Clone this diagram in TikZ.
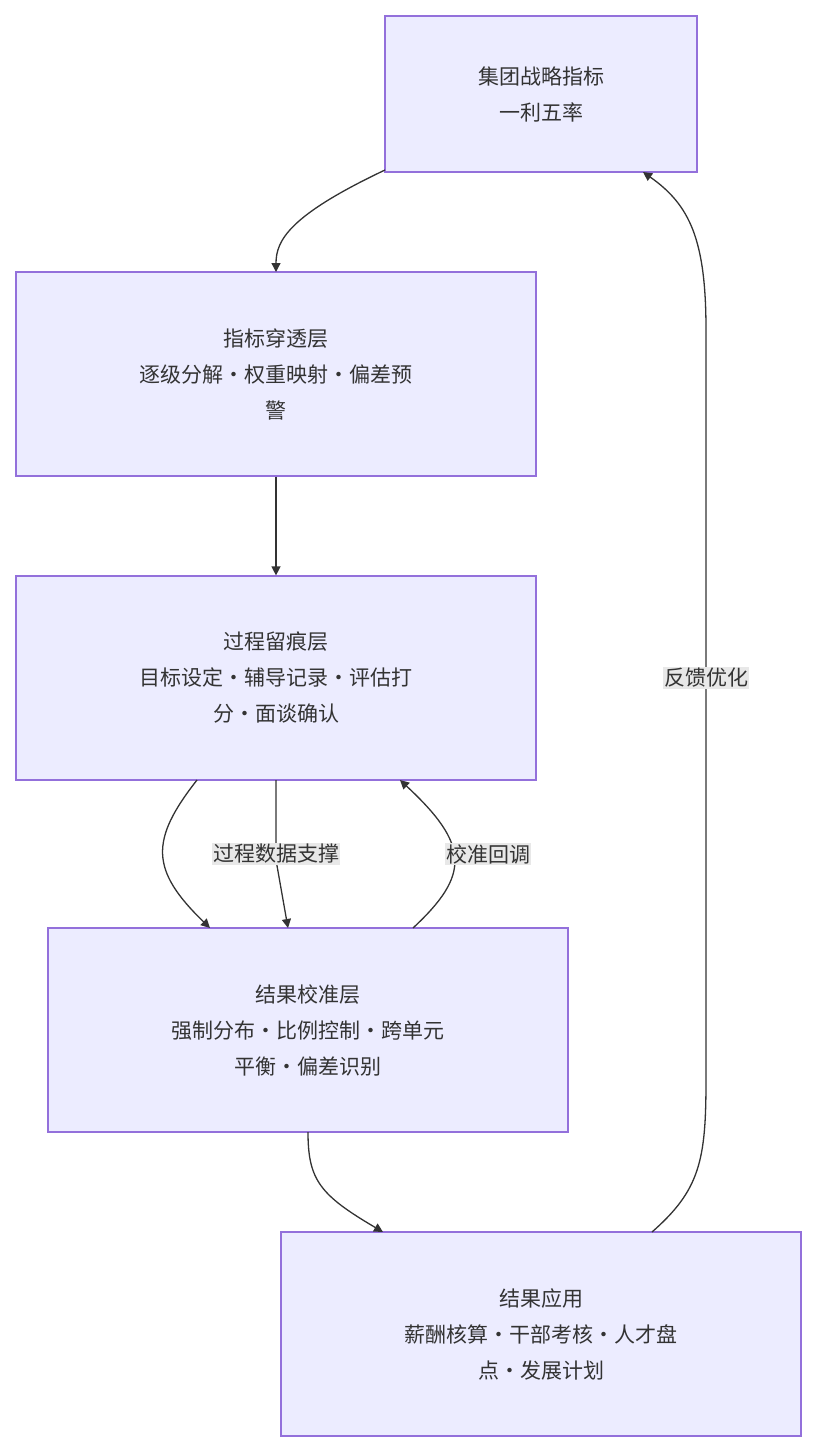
\documentclass[tikz,border=0pt]{standalone}
\usepackage{fontspec}
\setmainfont{Noto Sans CJK SC}
\usetikzlibrary{arrows.meta}
\definecolor{boxfill}{HTML}{ECECFF}
\definecolor{boxline}{HTML}{9370DB}
\definecolor{txt}{HTML}{333333}
\definecolor{lblbg}{HTML}{E8E8E8}
\begin{document}
\begin{tikzpicture}[x=1pt,y=-1pt,
  box/.style={draw=boxline,fill=boxfill,line width=1.2pt,minimum width=520pt,minimum height=204pt,align=center,text=txt,font=\fontsize{21}{36}\selectfont,inner sep=0pt},
  lbl/.style={fill=lblbg,text=txt,font=\fontsize{21}{28}\selectfont,inner sep=1pt},
  edge/.style={draw=txt,line width=1.3pt,-{Triangle[length=9pt,width=9pt]}}]
\useasboundingbox (0,0) rectangle (817,1452);
\node[box,minimum width=312pt,minimum height=156pt] (a) at (541,94) {集团战略指标\\一利五率};
\node[box] (b) at (276,374) {指标穿透层\\逐级分解·权重映射·偏差预\\警};
\node[box] (c) at (276,678) {过程留痕层\\目标设定·辅导记录·评估打\\分·面谈确认};
\node[box] (d) at (308,1030) {结果校准层\\强制分布·比例控制·跨单元\\平衡·偏差识别};
\node[box] (e) at (541,1334) {结果应用\\薪酬核算·干部考核·人才盘\\点·发展计划};
\coordinate (a1) at (385,170);
\coordinate (b1) at (276,272);
\draw[edge] (a1) .. controls (290,215) and (276,240) .. (b1);
\draw[edge] (b.south) -- (c.north);
\coordinate (c1) at (197,780);
\coordinate (d1) at (210,928);
\draw[edge] (c1) .. controls (150,840) and (150,870) .. (d1);
\coordinate (c2) at (276,780);
\coordinate (d2) at (288,928);
\draw[edge] (c2) -- (276,860) -- (d2);
\node[lbl] (l1) at (276,854) {过程数据支撑};
\coordinate (d3) at (413,928);
\coordinate (c3) at (400,780);
\draw[edge] (d3) .. controls (470,875) and (470,845) .. (c3);
\node[lbl] (l2) at (488,854) {校准回调};
\coordinate (d4) at (308,1132);
\coordinate (e1) at (383,1232);
\draw[edge] (d4) .. controls (308,1180) and (320,1195) .. (e1);
\coordinate (e2) at (652,1232);
\coordinate (a2) at (643,172);
\draw[edge] (e2) .. controls (700,1190) and (706,1160) .. (706,1080) -- (706,330) .. controls (706,240) and (690,205) .. (a2);
\node[lbl] (l3) at (706,678) {反馈优化};
\end{tikzpicture}
\end{document}
